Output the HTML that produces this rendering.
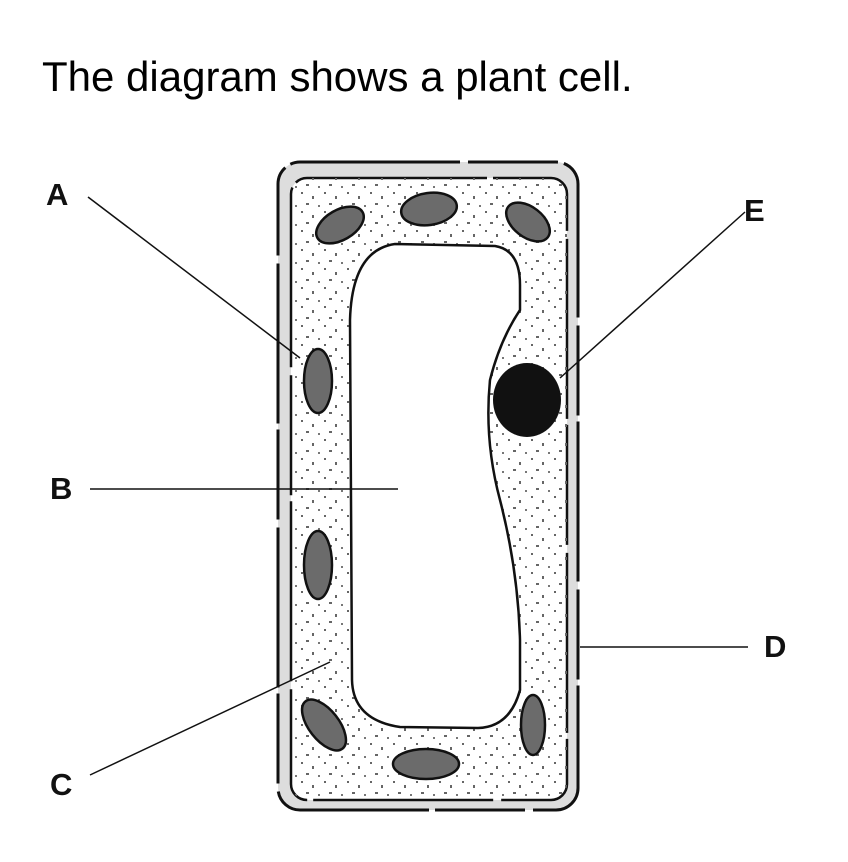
<!DOCTYPE html>
<html><head><style>
body{margin:0;background:#fff;width:848px;height:862px;overflow:hidden}
.t{position:absolute;left:42px;top:53px;font:42px "Liberation Sans",sans-serif;color:#000}
.l{position:absolute;font:bold 31px "Liberation Sans",sans-serif;color:#111}
</style></head><body>
<div class="t">The diagram shows a plant cell.</div>
<svg width="848" height="862" style="position:absolute;left:0;top:0">
<defs>
<pattern id="dots" width="23" height="19" patternUnits="userSpaceOnUse">
<rect x="2" y="2" width="2" height="2" fill="#666"/>
<rect x="13" y="6" width="2" height="3" fill="#666"/>
<rect x="7" y="13" width="3" height="2" fill="#666"/>
<rect x="19" y="15" width="2" height="2" fill="#777"/>
</pattern>
</defs>
<rect x="278" y="162" width="300" height="648" rx="22" fill="#ddd" stroke="#111" stroke-width="3" stroke-dasharray="160 8 90 6"/>
<rect x="291" y="178" width="276" height="622" rx="16" fill="#fff" stroke="#111" stroke-width="2.5" stroke-dasharray="180 6 120 8"/>
<rect x="291" y="178" width="276" height="622" rx="16" fill="url(#dots)"/>
<path d="M395,244 L495,246 Q520,250 520,285 L520,310 Q500,340 490,380 Q484,440 500,500 Q518,570 520,640 L520,690 Q510,727 478,728 L400,727 Q353,720 352,680 L350,320 Q352,250 395,244 Z" fill="#fff" stroke="#111" stroke-width="2.5"/>
<g fill="#6b6b6b" stroke="#111" stroke-width="2.5">
<ellipse cx="340" cy="225" rx="26" ry="15" transform="rotate(-30 340 225)"/>
<ellipse cx="429" cy="209" rx="28" ry="16" transform="rotate(-8 429 209)"/>
<ellipse cx="528" cy="222" rx="25" ry="15" transform="rotate(38 528 222)"/>
<ellipse cx="318" cy="381" rx="14" ry="32"/>
<ellipse cx="318" cy="565" rx="14" ry="34"/>
<ellipse cx="324" cy="725" rx="30" ry="15" transform="rotate(52 324 725)"/>
<ellipse cx="426" cy="764" rx="33" ry="15"/>
<ellipse cx="533" cy="725" rx="12" ry="30"/>
</g>
<ellipse cx="527" cy="400" rx="34" ry="37" fill="#111"/>
<g stroke="#111" stroke-width="1.5">
<line x1="88" y1="197" x2="300" y2="358"/>
<line x1="745" y1="212" x2="560" y2="378"/>
<line x1="90" y1="489" x2="398" y2="489"/>
<line x1="580" y1="647" x2="748" y2="647"/>
<line x1="90" y1="775" x2="330" y2="662"/>
</g>
</svg>
<div class="l" style="left:46px;top:177px">A</div>
<div class="l" style="left:744px;top:193px">E</div>
<div class="l" style="left:50px;top:471px">B</div>
<div class="l" style="left:764px;top:629px">D</div>
<div class="l" style="left:50px;top:767px">C</div>
</body></html>
